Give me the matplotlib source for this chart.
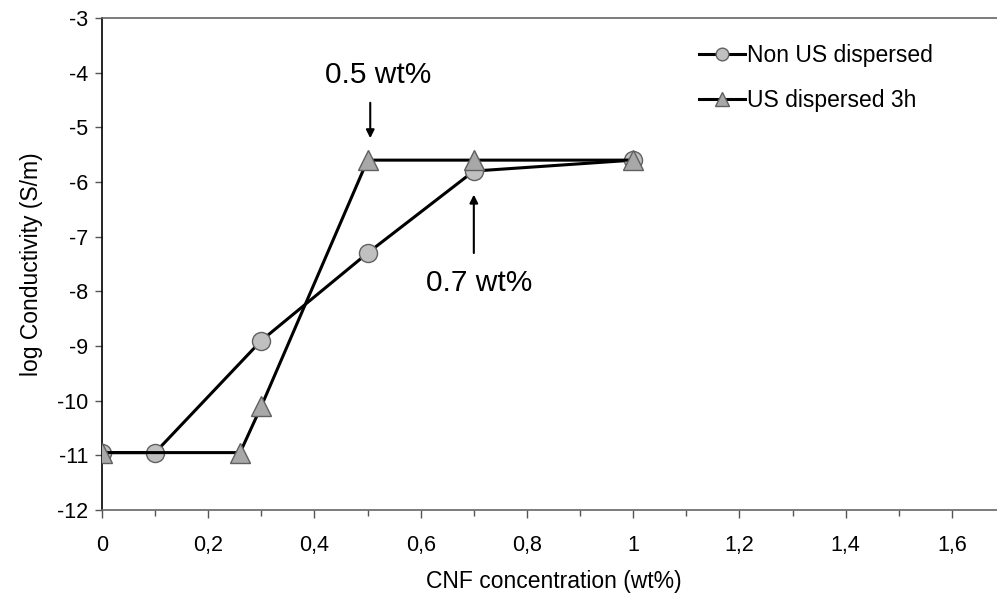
import numpy as np
import matplotlib.pyplot as plt
from matplotlib.ticker import MultipleLocator, FuncFormatter

plt.rcParams['font.family'] = ['Liberation Sans', 'DejaVu Sans']

# Data
x_non_us = [0, 0.1, 0.3, 0.5, 0.7, 1.0]
y_non_us = [-10.95, -10.95, -8.9, -7.3, -5.8, -5.6]

x_us = [0, 0.26, 0.3, 0.5, 0.7, 1.0]
y_us = [-10.95, -10.95, -10.1, -5.6, -5.6, -5.6]

label_non_us = "Non US dispersed"
label_us = "US dispersed 3h"

fig = plt.figure(figsize=(9.97, 5.96), dpi=100)
ax = fig.add_axes([102 / 997, 1 - 510 / 596, (1005 - 102) / 997, (510 - 18) / 596])

ax.plot(x_non_us, y_non_us, color='black', lw=2.2, marker='o', ms=13,
        mfc='#c0c0c0', mec='#606060', mew=1, label=label_non_us, zorder=3)
ax.plot(x_us, y_us, color='black', lw=2.2, marker='^', ms=14,
        mfc='#a8a8a8', mec='#606060', mew=1, label=label_us, zorder=4)

ax.set_xlim(0, 1.7)
ax.set_ylim(-12, -3)
ax.xaxis.set_major_locator(MultipleLocator(0.2))
ax.xaxis.set_minor_locator(MultipleLocator(0.1))
ax.yaxis.set_major_locator(MultipleLocator(1))
ax.xaxis.set_major_formatter(FuncFormatter(lambda v, p: ('%g' % round(v, 1)).replace('.', ',')))
ax.yaxis.set_major_formatter(FuncFormatter(lambda v, p: '%d' % v))

ax.tick_params(axis='both', direction='out', labelsize=15.5, colors='black')
ax.tick_params(axis='x', which='major', length=6, width=1, color='#555555', pad=12)
ax.tick_params(axis='x', which='minor', length=4, width=1, color='#555555')
ax.tick_params(axis='y', which='major', length=5, width=1, color='#555555', pad=5)

for s in ['top', 'bottom']:
    ax.spines[s].set_color('#666666')
    ax.spines[s].set_linewidth(1.2)
ax.spines['left'].set_color('black')
ax.spines['left'].set_linewidth(1.2)
ax.spines['right'].set_visible(False)

ax.set_xlabel("CNF concentration (wt%)", fontsize=16.5, labelpad=10)
ax.set_ylabel("log Conductivity (S/m)", fontsize=16.5, labelpad=10)

ax.annotate("", xy=(0.505, -5.25), xytext=(0.505, -4.5),
            arrowprops=dict(arrowstyle='-|>', color='black', lw=1.5, mutation_scale=12))
ax.text(0.52, -4.05, "0.5 wt%", fontsize=21.5, ha='center', va='center')
ax.annotate("", xy=(0.70, -6.18), xytext=(0.70, -7.35),
            arrowprops=dict(arrowstyle='-|>', color='black', lw=1.5, mutation_scale=12))
ax.text(0.71, -7.85, "0.7 wt%", fontsize=21.5, ha='center', va='center')

leg = ax.legend(loc='upper left', bbox_to_anchor=(0.638, 0.99), frameon=False,
                fontsize=16.5, handlelength=2.0, handletextpad=0.1, labelspacing=1.0,
                markerscale=0.7)

fig.savefig("out.png", dpi=100)
